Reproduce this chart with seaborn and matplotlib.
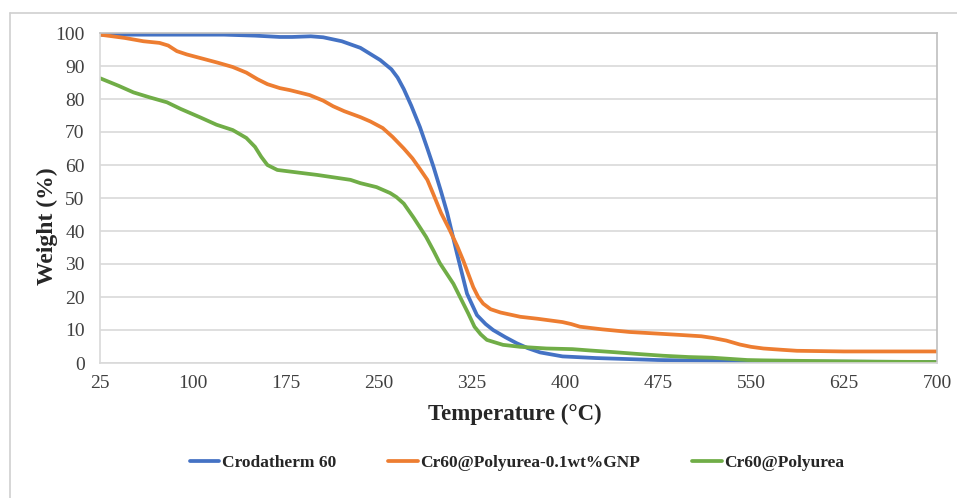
import matplotlib
matplotlib.use("Agg")
import matplotlib.pyplot as plt
from matplotlib.lines import Line2D
import seaborn as sns
import pandas as pd

# ---- data ----
series_names = ["Crodatherm 60", "Cr60@Polyurea-0.1wt%GNP", "Cr60@Polyurea"]

cro_T = [25, 50, 75, 100, 125, 150, 170, 180, 195, 205, 220, 235, 251, 260, 265,
         270, 276, 283, 289, 294, 300, 305, 313, 321, 329, 336, 342, 352, 361, 370,
         380, 398, 425, 475, 550, 625, 700]
cro_W = [99.5, 99.5, 99.5, 99.5, 99.5, 99.2, 98.8, 98.8, 99.0, 98.7, 97.5, 95.5, 91.8, 89.0, 86.5,
         83.0, 78.0, 71.5, 65.0, 59.4, 52.0, 45.5, 33.0, 21.0, 14.5, 11.8, 10.0, 7.8, 6.0, 4.5,
         3.2, 2.0, 1.5, 0.9, 0.5, 0.4, 0.3]

gnp_T = [25, 45, 60, 73, 80, 87, 95, 106, 120, 132, 143, 152, 160, 170, 178, 194, 205,
         213, 222, 235, 243, 253, 261, 270, 277, 283, 289, 294, 300, 307, 313, 318, 322,
         326, 330, 334, 340, 348, 364, 378, 398, 405, 412, 430, 452, 475, 493, 510, 519,
         530, 541, 550, 560, 575, 587, 625, 660, 700]
gnp_W = [99.5, 98.5, 97.5, 97.0, 96.2, 94.5, 93.5, 92.4, 91.0, 89.7, 88.0, 86.0, 84.5, 83.3, 82.7, 81.2, 79.5,
         77.8, 76.3, 74.5, 73.2, 71.2, 68.5, 65.0, 62.0, 58.8, 55.5, 51.0, 45.5, 40.3, 35.5, 31.0, 27.0,
         23.0, 20.0, 18.0, 16.3, 15.3, 14.0, 13.4, 12.4, 11.8, 11.0, 10.2, 9.4, 8.9, 8.5, 8.1, 7.6,
         6.8, 5.6, 4.9, 4.4, 4.0, 3.7, 3.5, 3.5, 3.5]

pu_T = [25, 40, 52, 65, 79, 90, 106, 119, 132, 143, 150, 155, 160, 168, 185, 200, 227,
        235, 248, 259, 264, 270, 278, 288, 294, 299, 310, 318, 322, 327, 332, 337, 350,
        364, 385, 406, 420, 439, 460, 479, 500, 519, 535, 547, 560, 600, 650, 700]
pu_W = [86.3, 84.0, 82.0, 80.5, 79.0, 77.0, 74.4, 72.2, 70.6, 68.2, 65.5, 62.5, 60.0, 58.5, 57.7, 57.0, 55.5,
        54.5, 53.3, 51.5, 50.3, 48.3, 44.0, 38.2, 34.0, 30.3, 24.0, 18.0, 15.0, 11.0, 8.7, 7.0, 5.5,
        4.9, 4.4, 4.2, 3.8, 3.3, 2.7, 2.2, 1.8, 1.6, 1.2, 0.9, 0.8, 0.6, 0.4, 0.3]

x_ticks = [25, 100, 175, 250, 325, 400, 475, 550, 625, 700]
y_ticks = [0, 10, 20, 30, 40, 50, 60, 70, 80, 90, 100]

colors = ["#4472C4", "#ED7D31", "#70AD47"]

frames = []
for name, T, W in zip(series_names, [cro_T, gnp_T, pu_T], [cro_W, gnp_W, pu_W]):
    frames.append(pd.DataFrame({"Temperature": T, "Weight": W, "Series": name}))
df = pd.concat(frames, ignore_index=True)

# ---- plot ----
sns.set_style("white")
plt.rcParams["font.family"] = ["Liberation Serif", "DejaVu Serif"]

fig = plt.figure(figsize=(9.57, 4.98), dpi=100)
ax = fig.add_axes([100 / 957, 1 - 363 / 498, 837 / 957, 330 / 498])

sns.lineplot(data=df, x="Temperature", y="Weight", hue="Series",
             hue_order=series_names, palette=colors, linewidth=2.7,
             sort=False, estimator=None, ax=ax, legend=True)

ax.set_xlim(25, 700)
ax.set_ylim(0, 100)
ax.set_xticks(x_ticks)
ax.set_yticks(y_ticks)
ax.tick_params(axis="both", labelsize=14, length=5, width=1.2, direction="out",
               colors="#d9d9d9", labelcolor="#404040")
ax.tick_params(axis="y", pad=6)
ax.tick_params(axis="x", pad=4)

ax.grid(axis="y", color="#d9d9d9", linewidth=1.2)
ax.grid(axis="x", visible=False)
ax.set_axisbelow(True)

for s in ["left", "bottom"]:
    ax.spines[s].set_color("#d9d9d9")
    ax.spines[s].set_linewidth(1.2)
for s in ["top", "right"]:
    ax.spines[s].set_color("#bfbfbf")
    ax.spines[s].set_linewidth(1.2)

ax.set_xlabel("Temperature (°C)", fontsize=16.5, fontweight="bold")
ax.set_ylabel("Weight (%)", fontsize=17, fontweight="bold")
ax.xaxis.set_label_coords((515 - 100) / 837, -(414 - 363) / 330)
ax.yaxis.set_label_coords((47 - 100) / 837, (363 - 226) / 330)
ax.xaxis.label.set_va("center")
ax.yaxis.label.set_va("center")

handles, labels = ax.get_legend_handles_labels()
ax.get_legend().remove()
fig.legend(handles, labels, loc="center", bbox_to_anchor=(517 / 957, 1 - 463 / 498),
           ncol=3, frameon=False, prop={"size": 12.5, "weight": "bold"},
           handlelength=1.7, handletextpad=0.15, columnspacing=3.0)

# outer light frame
fig.add_artist(Line2D([10 / 957, 1.0], [1 - 13 / 498, 1 - 13 / 498],
                      transform=fig.transFigure, color="#d0d0d0", linewidth=1.2))
fig.add_artist(Line2D([10 / 957, 10 / 957], [0.0, 1 - 13 / 498],
                      transform=fig.transFigure, color="#d0d0d0", linewidth=1.2))

fig.savefig("out.png", dpi=100, facecolor="white")
